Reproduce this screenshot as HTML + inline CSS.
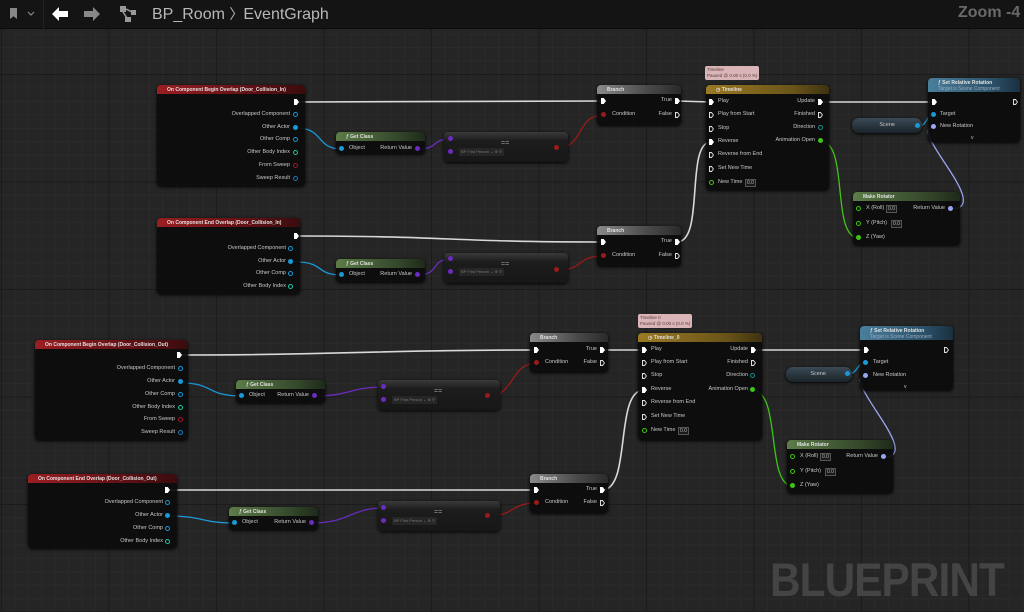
<!DOCTYPE html>
<html><head><meta charset="utf-8"><style>
*{margin:0;padding:0;box-sizing:border-box}
body{width:1024px;height:612px;overflow:hidden;position:relative;font-family:"Liberation Sans",sans-serif;
background-color:#252525;
background-image:
linear-gradient(90deg,#1b1b1b 1px,transparent 1px),
linear-gradient(0deg,#1b1b1b 1px,transparent 1px),
linear-gradient(90deg,#2a2a2a 1px,transparent 1px),
linear-gradient(0deg,#2a2a2a 1px,transparent 1px);
background-size:107.5px 107.5px,107.5px 107.5px,13.44px 13.44px,13.44px 13.44px;
background-position:1px 0,0 75px,1px 0,0 75px;}
#top{position:absolute;left:0;top:0;width:1024px;height:29px;background:#141414;border-bottom:1px solid #0c0c0c}
.n{position:absolute;background:rgba(12,12,12,.93);border-radius:4px;box-shadow:0 1px 3px #000}
.h{height:9px;border-radius:4px 4px 0 0;font-size:5px;font-weight:bold;color:#e0e0e0;padding:2px 0 0 10px;white-space:nowrap;overflow:hidden}
.red{background:linear-gradient(90deg,#9a1e22,#5a1014 70%,#3a0c0e)}
.grn{background:linear-gradient(90deg,#5c7c48,#33472a 70%,#1f2a1a)}
.gold{background:linear-gradient(90deg,#9a7a24,#6a5418 70%,#3e3212)}
.gry{background:linear-gradient(90deg,#8a8a8a,#4a4a4a 60%,#2a2a2a)}
.blu{background:linear-gradient(90deg,#4a7f9c,#2b5068 70%,#1a3040);height:14px}
.t{position:absolute;font-size:5.5px;color:#c8c8c8;white-space:nowrap;line-height:7px}
.p{position:absolute;width:5px;height:5px;border-radius:50%}
.o{position:absolute;width:5px;height:5px;border-radius:50%;border:1px solid}
.x{position:absolute;width:5px;height:6px;background:#fff;clip-path:polygon(0 0,55% 0,100% 50%,55% 100%,0 100%)}
.xo{position:absolute;width:5px;height:6px;background:#ddd;clip-path:polygon(0 0,55% 0,100% 50%,55% 100%,0 100%,0 0,20% 18%,20% 82%,48% 82%,78% 50%,48% 18%,20% 18%)}
.box{position:absolute;font-size:5px;color:#bbb;border:1px solid #555;padding:0 1px;line-height:6px;background:#1a1a1a}
.eq{background:linear-gradient(180deg,#3a3a3a,#1c1c1c 30%,#171717)}
.tip{position:absolute;background:#d9b5b8;color:#5a3a3a;font-size:4.5px;line-height:6px;padding:1px 2px;border-radius:2px;white-space:nowrap}
.sc{position:absolute;background:linear-gradient(180deg,#3a4a55,#1a2328);border-radius:7px;box-shadow:0 1px 3px #000}
.dd{position:absolute;font-size:4px;color:#777;background:#262626;padding:1px 2px;line-height:6px}
.chev{position:absolute;font-size:5px;color:#ccc}
</style></head><body>
<div id="top">
<div style="position:absolute;left:10px;top:8px;width:7px;height:11px;background:#888;clip-path:polygon(0 0,100% 0,100% 100%,50% 75%,0 100%)"></div>
<svg style="position:absolute;left:27px;top:11px" width="8" height="6"><path d="M1 1 L4 4 L7 1" stroke="#888" stroke-width="1.2" fill="none"/></svg>
<div style="position:absolute;left:43px;top:0;width:1px;height:29px;background:#222"></div>
<svg style="position:absolute;left:51px;top:6px" width="18" height="16"><path d="M1 8 L8 1 L8 5 L17 5 L17 11 L8 11 L8 15 Z" fill="#fff"/></svg>
<svg style="position:absolute;left:83px;top:6px" width="18" height="16"><path d="M17 8 L10 1 L10 5 L1 5 L1 11 L10 11 L10 15 Z" fill="#888"/></svg>
<svg style="position:absolute;left:119px;top:5px" width="20" height="18"><rect x="1" y="1" width="6" height="6" fill="#999"/><rect x="12" y="5" width="5" height="5" fill="#999"/><rect x="6" y="12" width="6" height="5" fill="#999"/><path d="M4 7 L8 13 M7 4 L13 7" stroke="#999" stroke-width="1.5"/></svg>
<div style="position:absolute;left:152px;top:4px;color:#b8b8b8;font-size:16px">BP_Room <span style="font-size:14px">〉</span>EventGraph</div>
<div style="position:absolute;left:958px;top:4px;color:#6a6a6a;font-size:16px;font-weight:bold">Zoom -4</div>
</div>

<svg style="position:absolute;left:0;top:0" width="1024" height="612" fill="none" stroke-linecap="round">
<g stroke="#d8d8d8" stroke-width="1.6">
<path d="M298,102 L603,101"/><path d="M677,101 L711,102"/><path d="M820,102 L934,102"/>
<path d="M298,236 C450,236 450,242 603,242"/><path d="M677,242 C705,242 685,142 711,142"/>
<path d="M180,355 C350,355 370,350 536,350"/><path d="M602,350 L644,350"/><path d="M755,350 L866,350"/>
<path d="M168,490 L536,490"/><path d="M602,490 C632,490 614,390 644,390"/>
</g>
<g stroke="#1a98d8" stroke-width="1.3">
<path d="M296,128 C325,128 315,149 342,149"/><path d="M296,262 C325,262 315,275 342,275"/>
<path d="M181,383 C215,383 205,396 242,396"/><path d="M167,516 C205,516 200,523 235,523"/>
<path d="M918,126 C928,126 925,115 934,115"/><path d="M848,374 C858,374 856,363 866,363"/>
</g>
<g stroke="#6a2cc0" stroke-width="1.3">
<path d="M418,149 C440,149 430,139 451,139"/><path d="M418,275 C440,275 430,259 451,259"/>
<path d="M315,396 C350,396 350,387 384,387"/><path d="M312,523 C350,523 350,508 384,508"/>
</g>
<g stroke="#9a1a1a" stroke-width="1.3">
<path d="M557,148 C585,148 575,115 604,115"/><path d="M557,270 C585,270 575,256 604,256"/>
<path d="M488,396 C515,396 510,363 537,363"/><path d="M488,516 C515,516 510,503 537,503"/>
</g>
<g stroke="#3fc418" stroke-width="1.3">
<path d="M820,141 C850,141 830,238 859,238"/><path d="M752,390 C782,390 765,486 793,486"/>
</g>
<g stroke="#9aa6f0" stroke-width="1.3">
<path d="M951,209 C995,209 905,127 934,127"/><path d="M884,457 C925,457 838,376 866,376"/>
</g>
</svg>

<!-- ===== Event A ===== -->
<div class="n" style="left:157px;top:85px;width:148px;height:101px"><div class="h red">On Component Begin Overlap (Door_Collision_In)</div></div>
<div class="x" style="left:294px;top:99px"></div>
<div class="t" style="right:734px;top:111px">Overlapped Component</div><div class="o" style="left:293px;top:112px;border-color:#1a98d8"></div>
<div class="t" style="right:734px;top:124px">Other Actor</div><div class="p" style="left:293px;top:125px;background:#1a98d8"></div>
<div class="t" style="right:734px;top:136px">Other Comp</div><div class="o" style="left:293px;top:137px;border-color:#1a98d8"></div>
<div class="t" style="right:734px;top:149px">Other Body Index</div><div class="o" style="left:293px;top:150px;border-color:#1ec5a0"></div>
<div class="t" style="right:734px;top:162px">From Sweep</div><div class="o" style="left:293px;top:163px;border-color:#a3152b"></div>
<div class="t" style="right:734px;top:175px">Sweep Result</div><div class="o" style="left:293px;top:176px;border-color:#1a7ab8"></div>

<div class="n" style="left:336px;top:132px;width:89px;height:22px"><div class="h grn">ƒ Get Class</div></div>
<div class="p" style="left:339px;top:146px;background:#1a98d8"></div><div class="t" style="left:349px;top:145px">Object</div>
<div class="t" style="right:612px;top:145px">Return Value</div><div class="p" style="left:415px;top:146px;background:#6a2cc0"></div>

<div class="n eq" style="left:444px;top:132px;width:124px;height:30px"></div>
<div class="p" style="left:448px;top:136px;background:#6a2cc0"></div><div class="p" style="left:448px;top:149px;background:#6a2cc0"></div>
<div class="t" style="left:501px;top:140px;font-size:7px;color:#999">==</div>
<div class="dd" style="left:459px;top:148px">BP First Person ⌄ ⊕ ⚲</div>
<div class="p" style="left:554px;top:145px;background:#9a1a1a"></div>

<div class="n" style="left:597px;top:85px;width:84px;height:40px"><div class="h gry">Branch</div></div>
<div class="x" style="left:601px;top:98px"></div><div class="p" style="left:601px;top:112px;background:#9a1a1a"></div><div class="t" style="left:612px;top:111px">Condition</div>
<div class="t" style="right:352px;top:97px">True</div><div class="x" style="left:675px;top:98px"></div>
<div class="t" style="right:352px;top:111px">False</div><div class="xo" style="left:675px;top:112px"></div>

<div class="tip" style="left:705px;top:66px">Timeline<br>Paused @ 0.00 s (0.0 %)</div>
<div class="n" style="left:706px;top:85px;width:123px;height:105px"><div class="h gold">◷ Timeline</div></div>
<div class="x" style="left:709px;top:99px"></div><div class="t" style="left:718px;top:98px">Play</div>
<div class="xo" style="left:709px;top:112px"></div><div class="t" style="left:718px;top:111px">Play from Start</div>
<div class="xo" style="left:709px;top:126px"></div><div class="t" style="left:718px;top:125px">Stop</div>
<div class="x" style="left:709px;top:139px"></div><div class="t" style="left:718px;top:138px">Reverse</div>
<div class="xo" style="left:709px;top:152px"></div><div class="t" style="left:718px;top:151px">Reverse from End</div>
<div class="xo" style="left:709px;top:166px"></div><div class="t" style="left:718px;top:165px">Set New Time</div>
<div class="o" style="left:709px;top:180px;border-color:#3fc418"></div><div class="t" style="left:718px;top:179px">New Time</div><div class="box" style="left:745px;top:179px">0.0</div>
<div class="t" style="right:209px;top:98px">Update</div><div class="x" style="left:818px;top:99px"></div>
<div class="t" style="right:209px;top:111px">Finished</div><div class="xo" style="left:818px;top:112px"></div>
<div class="t" style="right:209px;top:124px">Direction</div><div class="o" style="left:818px;top:125px;border-color:#1a8a8a"></div>
<div class="t" style="right:209px;top:137px">Animation Open</div><div class="p" style="left:818px;top:138px;background:#3fc418"></div>

<div class="n" style="left:928px;top:78px;width:92px;height:64px"><div class="h blu">ƒ Set Relative Rotation<br><span style="font-weight:normal;color:#9ab">Target is Scene Component</span></div></div>
<div class="x" style="left:932px;top:99px"></div><div class="xo" style="left:1013px;top:99px"></div>
<div class="p" style="left:931px;top:112px;background:#1a98d8"></div><div class="t" style="left:940px;top:111px">Target</div>
<div class="p" style="left:931px;top:124px;background:#9aa6f0"></div><div class="t" style="left:940px;top:123px">New Rotation</div>
<div class="chev" style="left:971px;top:135px">v</div>

<div class="sc" style="left:852px;top:118px;width:70px;height:15px"></div>
<div class="t" style="right:129px;top:122px">Scene</div><div class="p" style="left:915px;top:123px;background:#1a98d8"></div>

<div class="n" style="left:853px;top:192px;width:107px;height:53px"><div class="h grn">Make Rotator</div></div>
<div class="o" style="left:856px;top:206px;border-color:#3fc418"></div><div class="t" style="left:866px;top:205px">X (Roll)</div><div class="box" style="left:886px;top:205px">0.0</div>
<div class="o" style="left:856px;top:221px;border-color:#3fc418"></div><div class="t" style="left:866px;top:220px">Y (Pitch)</div><div class="box" style="left:891px;top:220px">0.0</div>
<div class="p" style="left:856px;top:235px;background:#3fc418"></div><div class="t" style="left:866px;top:234px">Z (Yaw)</div>
<div class="t" style="right:79px;top:205px">Return Value</div><div class="p" style="left:948px;top:206px;background:#9aa6f0"></div>

<!-- ===== Event B ===== -->
<div class="n" style="left:157px;top:218px;width:143px;height:76px"><div class="h red">On Component End Overlap (Door_Collision_In)</div></div>
<div class="x" style="left:294px;top:233px"></div>
<div class="t" style="right:738px;top:245px">Overlapped Component</div><div class="o" style="left:288px;top:246px;border-color:#1a98d8"></div>
<div class="t" style="right:738px;top:258px">Other Actor</div><div class="p" style="left:288px;top:259px;background:#1a98d8"></div>
<div class="t" style="right:738px;top:270px">Other Comp</div><div class="o" style="left:288px;top:271px;border-color:#1a98d8"></div>
<div class="t" style="right:738px;top:283px">Other Body Index</div><div class="o" style="left:288px;top:284px;border-color:#1ec5a0"></div>

<div class="n" style="left:336px;top:259px;width:89px;height:23px"><div class="h grn">ƒ Get Class</div></div>
<div class="p" style="left:339px;top:272px;background:#1a98d8"></div><div class="t" style="left:349px;top:271px">Object</div>
<div class="t" style="right:612px;top:271px">Return Value</div><div class="p" style="left:415px;top:272px;background:#6a2cc0"></div>

<div class="n eq" style="left:444px;top:253px;width:124px;height:30px"></div>
<div class="p" style="left:448px;top:256px;background:#6a2cc0"></div><div class="p" style="left:448px;top:269px;background:#6a2cc0"></div>
<div class="t" style="left:501px;top:261px;font-size:7px;color:#999">==</div>
<div class="dd" style="left:459px;top:268px">BP First Person ⌄ ⊕ ⚲</div>
<div class="p" style="left:554px;top:267px;background:#9a1a1a"></div>

<div class="n" style="left:597px;top:226px;width:84px;height:40px"><div class="h gry">Branch</div></div>
<div class="x" style="left:601px;top:239px"></div><div class="p" style="left:601px;top:253px;background:#9a1a1a"></div><div class="t" style="left:612px;top:252px">Condition</div>
<div class="t" style="right:352px;top:238px">True</div><div class="x" style="left:675px;top:239px"></div>
<div class="t" style="right:352px;top:252px">False</div><div class="xo" style="left:675px;top:253px"></div>

<!-- ===== Event C ===== -->
<div class="n" style="left:35px;top:340px;width:153px;height:100px"><div class="h red">On Component Begin Overlap (Door_Collision_Out)</div></div>
<div class="x" style="left:177px;top:352px"></div>
<div class="t" style="right:849px;top:365px">Overlapped Component</div><div class="o" style="left:178px;top:366px;border-color:#1a98d8"></div>
<div class="t" style="right:849px;top:378px">Other Actor</div><div class="p" style="left:178px;top:379px;background:#1a98d8"></div>
<div class="t" style="right:849px;top:391px">Other Comp</div><div class="o" style="left:178px;top:392px;border-color:#1a98d8"></div>
<div class="t" style="right:849px;top:404px">Other Body Index</div><div class="o" style="left:178px;top:405px;border-color:#1ec5a0"></div>
<div class="t" style="right:849px;top:416px">From Sweep</div><div class="o" style="left:178px;top:417px;border-color:#a3152b"></div>
<div class="t" style="right:849px;top:429px">Sweep Result</div><div class="o" style="left:178px;top:430px;border-color:#1a7ab8"></div>

<div class="n" style="left:236px;top:380px;width:89px;height:23px"><div class="h grn">ƒ Get Class</div></div>
<div class="p" style="left:239px;top:393px;background:#1a98d8"></div><div class="t" style="left:249px;top:392px">Object</div>
<div class="t" style="right:715px;top:392px">Return Value</div><div class="p" style="left:312px;top:393px;background:#6a2cc0"></div>

<div class="n eq" style="left:378px;top:380px;width:122px;height:30px"></div>
<div class="p" style="left:381px;top:384px;background:#6a2cc0"></div><div class="p" style="left:381px;top:397px;background:#6a2cc0"></div>
<div class="t" style="left:434px;top:388px;font-size:7px;color:#999">==</div>
<div class="dd" style="left:392px;top:396px">BP First Person ⌄ ⊕ ⚲</div>
<div class="p" style="left:485px;top:393px;background:#9a1a1a"></div>

<div class="n" style="left:530px;top:333px;width:78px;height:39px"><div class="h gry">Branch</div></div>
<div class="x" style="left:534px;top:347px"></div><div class="p" style="left:534px;top:360px;background:#9a1a1a"></div><div class="t" style="left:545px;top:359px">Condition</div>
<div class="t" style="right:427px;top:346px">True</div><div class="x" style="left:600px;top:347px"></div>
<div class="t" style="right:427px;top:359px">False</div><div class="xo" style="left:600px;top:360px"></div>

<div class="tip" style="left:638px;top:314px">Timeline 0<br>Paused @ 0.00 s (0.0 %)</div>
<div class="n" style="left:638px;top:333px;width:124px;height:107px"><div class="h gold">◷ Timeline_0</div></div>
<div class="x" style="left:642px;top:347px"></div><div class="t" style="left:651px;top:346px">Play</div>
<div class="xo" style="left:642px;top:360px"></div><div class="t" style="left:651px;top:359px">Play from Start</div>
<div class="xo" style="left:642px;top:373px"></div><div class="t" style="left:651px;top:372px">Stop</div>
<div class="x" style="left:642px;top:387px"></div><div class="t" style="left:651px;top:386px">Reverse</div>
<div class="xo" style="left:642px;top:400px"></div><div class="t" style="left:651px;top:399px">Reverse from End</div>
<div class="xo" style="left:642px;top:414px"></div><div class="t" style="left:651px;top:413px">Set New Time</div>
<div class="o" style="left:642px;top:428px;border-color:#3fc418"></div><div class="t" style="left:651px;top:427px">New Time</div><div class="box" style="left:678px;top:427px">0.0</div>
<div class="t" style="right:276px;top:346px">Update</div><div class="x" style="left:751px;top:347px"></div>
<div class="t" style="right:276px;top:359px">Finished</div><div class="xo" style="left:751px;top:360px"></div>
<div class="t" style="right:276px;top:372px">Direction</div><div class="o" style="left:750px;top:373px;border-color:#1a8a8a"></div>
<div class="t" style="right:276px;top:386px">Animation Open</div><div class="p" style="left:750px;top:387px;background:#3fc418"></div>

<div class="n" style="left:860px;top:326px;width:93px;height:64px"><div class="h blu">ƒ Set Relative Rotation<br><span style="font-weight:normal;color:#9ab">Target is Scene Component</span></div></div>
<div class="x" style="left:864px;top:347px"></div><div class="xo" style="left:944px;top:347px"></div>
<div class="p" style="left:863px;top:360px;background:#1a98d8"></div><div class="t" style="left:873px;top:359px">Target</div>
<div class="p" style="left:863px;top:373px;background:#9aa6f0"></div><div class="t" style="left:873px;top:372px">New Rotation</div>
<div class="chev" style="left:904px;top:384px">v</div>

<div class="sc" style="left:786px;top:367px;width:66px;height:15px"></div>
<div class="t" style="right:198px;top:371px">Scene</div><div class="p" style="left:845px;top:371px;background:#1a98d8"></div>

<div class="n" style="left:787px;top:440px;width:106px;height:53px"><div class="h grn">Make Rotator</div></div>
<div class="o" style="left:790px;top:454px;border-color:#3fc418"></div><div class="t" style="left:800px;top:453px">X (Roll)</div><div class="box" style="left:820px;top:453px">0.0</div>
<div class="o" style="left:790px;top:469px;border-color:#3fc418"></div><div class="t" style="left:800px;top:468px">Y (Pitch)</div><div class="box" style="left:825px;top:468px">0.0</div>
<div class="p" style="left:790px;top:483px;background:#3fc418"></div><div class="t" style="left:800px;top:482px">Z (Yaw)</div>
<div class="t" style="right:146px;top:453px">Return Value</div><div class="p" style="left:881px;top:454px;background:#9aa6f0"></div>

<!-- ===== Event D ===== -->
<div class="n" style="left:28px;top:474px;width:149px;height:74px"><div class="h red">On Component End Overlap (Door_Collision_Out)</div></div>
<div class="x" style="left:165px;top:487px"></div>
<div class="t" style="right:861px;top:499px">Overlapped Component</div><div class="o" style="left:165px;top:500px;border-color:#1a98d8"></div>
<div class="t" style="right:861px;top:512px">Other Actor</div><div class="p" style="left:165px;top:513px;background:#1a98d8"></div>
<div class="t" style="right:861px;top:525px">Other Comp</div><div class="o" style="left:165px;top:526px;border-color:#1a98d8"></div>
<div class="t" style="right:861px;top:538px">Other Body Index</div><div class="o" style="left:165px;top:539px;border-color:#1ec5a0"></div>

<div class="n" style="left:229px;top:507px;width:89px;height:23px"><div class="h grn">ƒ Get Class</div></div>
<div class="p" style="left:232px;top:520px;background:#1a98d8"></div><div class="t" style="left:242px;top:519px">Object</div>
<div class="t" style="right:718px;top:519px">Return Value</div><div class="p" style="left:309px;top:520px;background:#6a2cc0"></div>

<div class="n eq" style="left:378px;top:501px;width:122px;height:30px"></div>
<div class="p" style="left:381px;top:505px;background:#6a2cc0"></div><div class="p" style="left:381px;top:518px;background:#6a2cc0"></div>
<div class="t" style="left:434px;top:509px;font-size:7px;color:#999">==</div>
<div class="dd" style="left:392px;top:517px">BP First Person ⌄ ⊕ ⚲</div>
<div class="p" style="left:485px;top:513px;background:#9a1a1a"></div>

<div class="n" style="left:530px;top:474px;width:78px;height:39px"><div class="h gry">Branch</div></div>
<div class="x" style="left:534px;top:487px"></div><div class="p" style="left:534px;top:500px;background:#9a1a1a"></div><div class="t" style="left:545px;top:499px">Condition</div>
<div class="t" style="right:427px;top:486px">True</div><div class="x" style="left:600px;top:487px"></div>
<div class="t" style="right:427px;top:499px">False</div><div class="xo" style="left:600px;top:500px"></div>

<div style="position:absolute;left:770px;top:552px;font-size:47px;font-weight:bold;color:#444;transform:scaleX(.9);transform-origin:0 0;letter-spacing:-1px">BLUEPRINT</div>
</body></html>
